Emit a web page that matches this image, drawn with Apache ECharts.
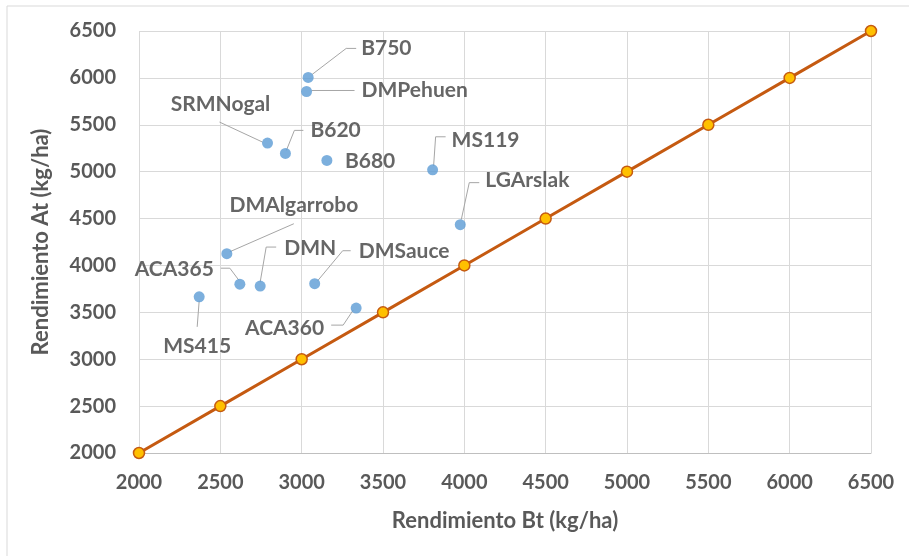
<!DOCTYPE html>
<html>
<head>
<meta charset="utf-8">
<script src="https://cdn.jsdelivr.net/npm/echarts@6/dist/echarts.min.js"></script>
<style>
html,body{margin:0;padding:0;background:#fff;}
#chart{width:909px;height:556px;}
</style>
</head>
<body>
<div id="chart"></div>
<script>
// ---- data ----
var hybridNames = ['B750','DMPehuen','SRMNogal','B620','B680','MS119','LGArslak','DMAlgarrobo','ACA365','DMN','DMSauce','ACA360','MS415'];
var yieldBt = [3040, 3030, 2790, 2900, 3155, 3805, 3975, 2540, 2620, 2745, 3080, 3335, 2370];
var yieldAt = [6005, 5855, 5305, 5195, 5120, 5020, 4435, 4125, 3800, 3780, 3805, 3545, 3665];
var refLineX = [2000, 2500, 3000, 3500, 4000, 4500, 5000, 5500, 6000, 6500];
var refLineY = [2000, 2500, 3000, 3500, 4000, 4500, 5000, 5500, 6000, 6500];
var axisTicks = [2000, 2500, 3000, 3500, 4000, 4500, 5000, 5500, 6000, 6500];

// label placement (offset from point centre, px) - styling only
var labelPlacement = {
  'B750':        {dx: 53,  dy: -29, align: 'left'},
  'DMPehuen':    {dx: 55,  dy: -1,  align: 'left'},
  'SRMNogal':    {dx: -47, dy: -39, align: 'center'},
  'B620':        {dx: 25,  dy: -23, align: 'left'},
  'B680':        {dx: 18,  dy: 1,   align: 'left'},
  'MS119':       {dx: 19,  dy: -30, align: 'left'},
  'LGArslak':    {dx: 25,  dy: -44, align: 'left'},
  'DMAlgarrobo': {dx: 67,  dy: -48, align: 'center'},
  'ACA365':      {dx: -26, dy: -15, align: 'right'},
  'DMN':         {dx: 24,  dy: -38, align: 'left'},
  'DMSauce':     {dx: 44,  dy: -32, align: 'left'},
  'ACA360':      {dx: -32, dy: 20,  align: 'right'},
  'MS415':       {dx: -2,  dy: 49,  align: 'center'}
};
// leader line vertices (offsets from point centre, px) - styling only
var leaderPaths = {
  'B750':        [[4,-3],[38,-29],[48,-29]],
  'DMPehuen':    [[5,-1],[48,-1]],
  'SRMNogal':    [[-5,-1],[-48,-21]],
  'B620':        [[1,-3],[9,-23],[18,-23]],
  'B680':        null,
  'MS119':       [[1,-4],[3,-33],[13,-33]],
  'LGArslak':    [[1,-5],[9,-42],[19,-42]],
  'DMAlgarrobo': [[3,-2],[67,-30]],
  'ACA365':      [[-1,-4],[-10,-16],[-19,-16]],
  'DMN':         [[0,-4],[6,-39],[16,-39]],
  'DMSauce':     [[3,-3],[28,-33],[36,-33]],
  'ACA360':      [[-3,2],[-13,17],[-25,17]],
  'MS415':       [[0,4],[-2,30]]
};

var scatterData = hybridNames.map(function (n, i) {
  return {name: n, value: [yieldBt[i], yieldAt[i]]};
});
var lineData = refLineX.map(function (x, i) { return [x, refLineY[i]]; });

var FONT = 'Lato, "Open Sans", sans-serif';
var chart = echarts.init(document.getElementById('chart'), null, {renderer: 'canvas'});
chart.setOption({
  animation: false,
  backgroundColor: '#ffffff',
  graphic: [
    {type: 'line', shape: {x1: 7, y1: 6, x2: 909, y2: 6}, style: {stroke: '#d9d9d9', lineWidth: 1}},
    {type: 'line', shape: {x1: 7, y1: 6, x2: 7, y2: 556}, style: {stroke: '#d9d9d9', lineWidth: 1}}
  ],
  grid: {left: 139, right: 38, top: 31, bottom: 103, containLabel: false},
  xAxis: {
    type: 'value', min: axisTicks[0], max: axisTicks[axisTicks.length - 1], interval: 500,
    name: 'Rendimiento Bt (kg/ha)', nameLocation: 'middle', nameGap: 57,
    nameTextStyle: {fontFamily: FONT, fontWeight: 'bold', fontSize: 22, color: '#595959'},
    axisLine: {show: true, lineStyle: {color: '#bfbfbf', width: 1}},
    axisTick: {show: false},
    axisLabel: {fontFamily: FONT, fontWeight: 'bold', fontSize: 20, color: '#595959', margin: 20,
      formatter: function (v) { return String(v); }},
    splitLine: {show: true, lineStyle: {color: '#d9d9d9', width: 1}}
  },
  yAxis: {
    type: 'value', min: axisTicks[0], max: axisTicks[axisTicks.length - 1], interval: 500,
    name: 'Rendimiento At (kg/ha)', nameLocation: 'middle', nameGap: 87,
    nameTextStyle: {fontFamily: FONT, fontWeight: 'bold', fontSize: 22, color: '#595959'},
    axisLine: {show: false},
    axisTick: {show: false},
    axisLabel: {fontFamily: FONT, fontWeight: 'bold', fontSize: 20, color: '#595959', margin: 23,
      formatter: function (v) { return String(v); }},
    splitLine: {show: true, lineStyle: {color: '#d9d9d9', width: 1}}
  },
  series: [
    {
      type: 'custom',
      data: scatterData,
      encode: {x: 0, y: 1},
      silent: true,
      z: 2,
      renderItem: function (params, api) {
        var name = hybridNames[params.dataIndex];
        var path = leaderPaths[name];
        if (!path) return null;
        var c = api.coord([api.value(0), api.value(1)]);
        var pts = path.map(function (o) { return [c[0] + o[0], c[1] + o[1]]; });
        return {type: 'polyline', shape: {points: pts},
          style: {stroke: '#a6a6a6', lineWidth: 1, fill: null}};
      }
    },
    {
      type: 'scatter',
      data: scatterData,
      symbol: 'circle',
      symbolSize: 11,
      itemStyle: {color: '#5B9BD5'},
      z: 3,
      label: {
        show: true,
        formatter: '{b}',
        fontFamily: FONT, fontWeight: 'bold', fontSize: 21, color: '#404040',
        position: 'inside'
      },
      labelLine: {show: false},
      labelLayout: function (p) {
        var name = hybridNames[p.dataIndex];
        var pl = labelPlacement[name];
        var cx = p.rect.x + p.rect.width / 2;
        var cy = p.rect.y + p.rect.height / 2;
        return {x: cx + pl.dx, y: cy + pl.dy, align: pl.align, verticalAlign: 'middle'};
      }
    },
    {
      type: 'line',
      data: lineData,
      symbol: 'circle',
      symbolSize: 11,
      showAllSymbol: true,
      lineStyle: {color: '#C55A11', width: 3},
      itemStyle: {color: '#FFC000', borderColor: '#C55A11', borderWidth: 1.5},
      z: 4
    }
  ]
});
</script>
</body>
</html>
